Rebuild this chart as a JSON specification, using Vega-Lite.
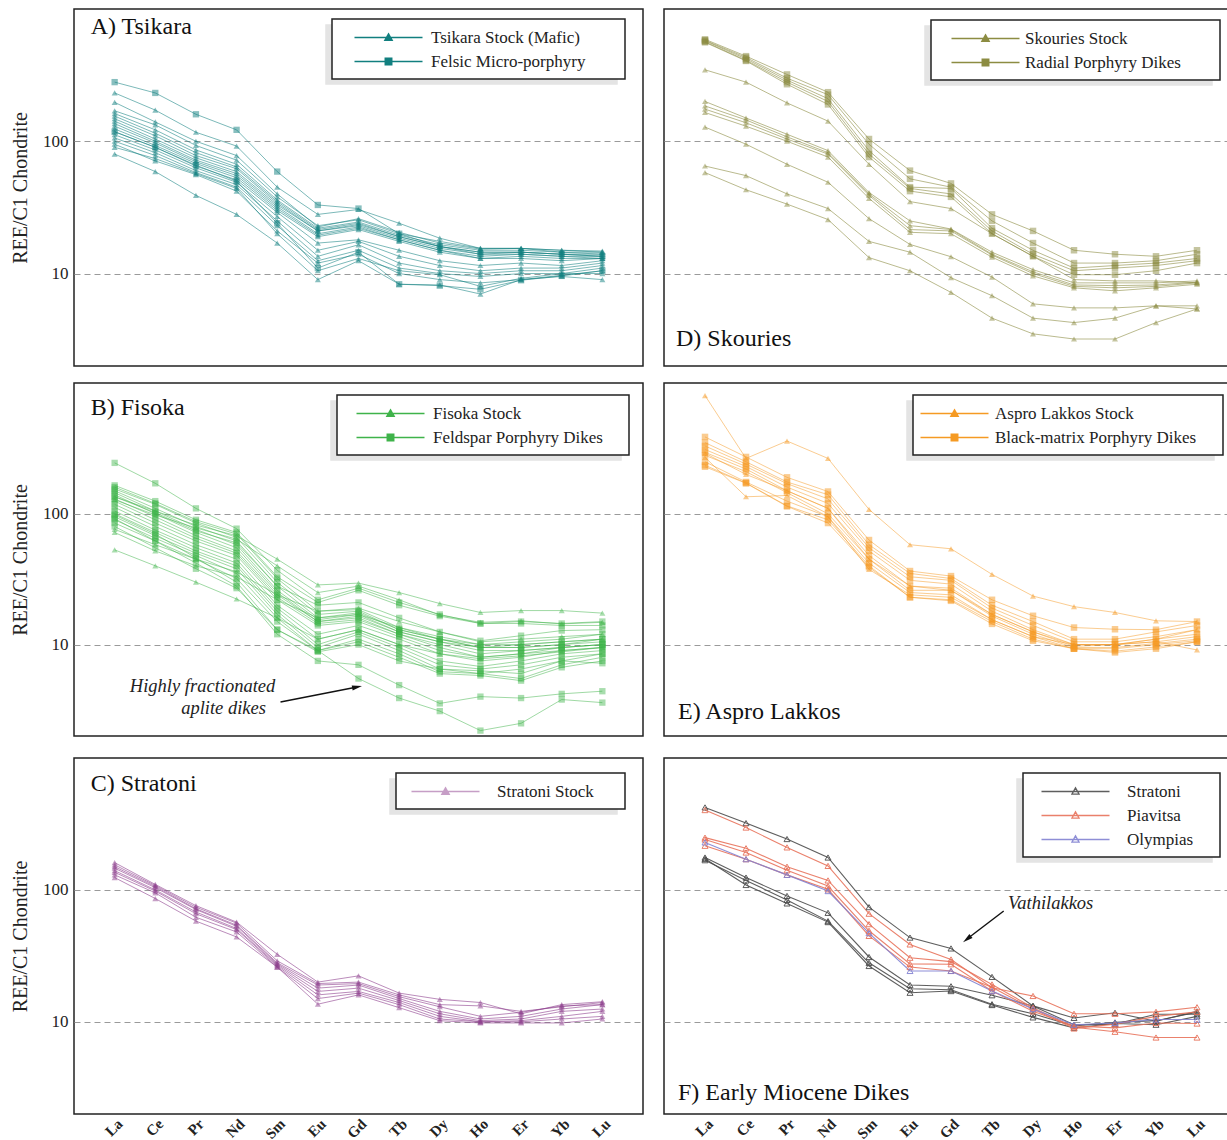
{
"$schema": "https://vega.github.io/schema/vega-lite/v6.json",
"padding": {"left": 9, "top": 8, "right": 0, "bottom": 0},
"background": "white",
"config": {"font": "Liberation Serif", "view": {"stroke": "#222", "strokeWidth": 1.5}, "legend": {"strokeWidth": 1.5}},
"datasets": {"ree": [
{"p":"A","g":"Tsikara Stock (Mafic)","s":"A1","La":232,"Ce":172,"Pr":117,"Nd":92,"Sm":45,"Eu":28,"Gd":30.5,"Tb":24,"Dy":18.5,"Ho":15.5,"Er":15.5,"Yb":15,"Lu":14.5},
{"p":"A","g":"Tsikara Stock (Mafic)","s":"A2","La":197,"Ce":140,"Pr":100,"Nd":78,"Sm":40,"Eu":22.5,"Gd":26,"Tb":20.5,"Dy":17,"Ho":15.3,"Er":15.5,"Yb":15,"Lu":14.8},
{"p":"A","g":"Tsikara Stock (Mafic)","s":"A3","La":170,"Ce":133,"Pr":93,"Nd":72,"Sm":38,"Eu":23,"Gd":25.5,"Tb":20,"Dy":17.5,"Ho":15.5,"Er":15.5,"Yb":14.5,"Lu":14},
{"p":"A","g":"Tsikara Stock (Mafic)","s":"A4","La":162,"Ce":122,"Pr":86,"Nd":67,"Sm":36,"Eu":22,"Gd":24.5,"Tb":19.5,"Dy":16.5,"Ho":15,"Er":15,"Yb":14.5,"Lu":14.5},
{"p":"A","g":"Tsikara Stock (Mafic)","s":"A5","La":155,"Ce":115,"Pr":82,"Nd":64,"Sm":35,"Eu":21.5,"Gd":24,"Tb":19,"Dy":16,"Ho":14.5,"Er":14.5,"Yb":14,"Lu":14},
{"p":"A","g":"Tsikara Stock (Mafic)","s":"A6","La":148,"Ce":110,"Pr":78,"Nd":62,"Sm":34,"Eu":21,"Gd":23.5,"Tb":19,"Dy":16,"Ho":14.5,"Er":14.5,"Yb":14,"Lu":13.5},
{"p":"A","g":"Tsikara Stock (Mafic)","s":"A7","La":142,"Ce":104,"Pr":75,"Nd":59,"Sm":33,"Eu":21,"Gd":23,"Tb":18.5,"Dy":15.5,"Ho":14,"Er":14,"Yb":13.5,"Lu":13.5},
{"p":"A","g":"Tsikara Stock (Mafic)","s":"A8","La":136,"Ce":100,"Pr":72,"Nd":57,"Sm":32,"Eu":20,"Gd":22.5,"Tb":18,"Dy":15,"Ho":13.5,"Er":14,"Yb":13.5,"Lu":13},
{"p":"A","g":"Tsikara Stock (Mafic)","s":"A9","La":130,"Ce":97,"Pr":70,"Nd":55,"Sm":31,"Eu":19.5,"Gd":22,"Tb":18,"Dy":15,"Ho":13,"Er":13.5,"Yb":13,"Lu":13},
{"p":"A","g":"Tsikara Stock (Mafic)","s":"A10","La":124,"Ce":93,"Pr":68,"Nd":53,"Sm":30,"Eu":19,"Gd":21.5,"Tb":17.5,"Dy":14.5,"Ho":13,"Er":13,"Yb":12.5,"Lu":13},
{"p":"A","g":"Tsikara Stock (Mafic)","s":"A11","La":118,"Ce":90,"Pr":65,"Nd":51,"Sm":29,"Eu":17,"Gd":18,"Tb":15,"Dy":12.5,"Ho":11.5,"Er":12,"Yb":11.5,"Lu":12.5},
{"p":"A","g":"Tsikara Stock (Mafic)","s":"A12","La":112,"Ce":86,"Pr":63,"Nd":49,"Sm":27,"Eu":15,"Gd":17.5,"Tb":13.5,"Dy":11.5,"Ho":10.5,"Er":11,"Yb":11,"Lu":12},
{"p":"A","g":"Tsikara Stock (Mafic)","s":"A13","La":106,"Ce":82,"Pr":60,"Nd":47,"Sm":25,"Eu":13.5,"Gd":16.5,"Tb":12,"Dy":10.5,"Ho":10,"Er":10.5,"Yb":10.5,"Lu":11.5},
{"p":"A","g":"Tsikara Stock (Mafic)","s":"A14","La":100,"Ce":78,"Pr":58,"Nd":45,"Sm":23,"Eu":12.5,"Gd":15,"Tb":11,"Dy":10,"Ho":9.5,"Er":10,"Yb":10,"Lu":11},
{"p":"A","g":"Tsikara Stock (Mafic)","s":"A15","La":95,"Ce":71,"Pr":56,"Nd":42,"Sm":21,"Eu":12,"Gd":14,"Tb":10,"Dy":9,"Ho":8.5,"Er":9,"Yb":9.7,"Lu":10.5},
{"p":"A","g":"Tsikara Stock (Mafic)","s":"A16","La":80,"Ce":59,"Pr":39,"Nd":28,"Sm":17,"Eu":9,"Gd":12.5,"Tb":8.3,"Dy":8.2,"Ho":7,"Er":9,"Yb":9.5,"Lu":9},
{"p":"A","g":"Tsikara Stock (Mafic)","s":"A17","La":90,"Ce":74,"Pr":57,"Nd":44,"Sm":20,"Eu":10.5,"Gd":13,"Tb":10.5,"Dy":9.8,"Ho":8,"Er":9.2,"Yb":10,"Lu":10},
{"p":"A","g":"Felsic Micro-porphyry","s":"A18","La":280,"Ce":232,"Pr":160,"Nd":122,"Sm":59,"Eu":33,"Gd":31,"Tb":20,"Dy":16,"Ho":14,"Er":14.5,"Yb":14,"Lu":13.5},
{"p":"A","g":"Felsic Micro-porphyry","s":"A19","La":118,"Ce":90,"Pr":66,"Nd":50,"Sm":24,"Eu":11,"Gd":14.5,"Tb":8.3,"Dy":8.1,"Ho":7.6,"Er":8.9,"Yb":9.6,"Lu":10.5},
{"p":"B","g":"Fisoka Stock","s":"B1","La":135,"Ce":105,"Pr":82,"Nd":68,"Sm":45,"Eu":28.6,"Gd":29.5,"Tb":25,"Dy":20.6,"Ho":17.6,"Er":18.2,"Yb":18.2,"Lu":17.4},
{"p":"B","g":"Fisoka Stock","s":"B2","La":128,"Ce":98,"Pr":78,"Nd":64,"Sm":40,"Eu":25,"Gd":28,"Tb":22,"Dy":16.8,"Ho":14.8,"Er":15.2,"Yb":14.4,"Lu":14.8},
{"p":"B","g":"Fisoka Stock","s":"B3","La":76,"Ce":58,"Pr":45,"Nd":36,"Sm":24,"Eu":18,"Gd":19,"Tb":15,"Dy":12.5,"Ho":10.5,"Er":11,"Yb":11.5,"Lu":12},
{"p":"B","g":"Fisoka Stock","s":"B4","La":72,"Ce":52,"Pr":40,"Nd":33,"Sm":22,"Eu":16,"Gd":17,"Tb":13.5,"Dy":11,"Ho":9.5,"Er":10,"Yb":10.5,"Lu":11},
{"p":"B","g":"Fisoka Stock","s":"B5","La":53,"Ce":40,"Pr":30,"Nd":22.3,"Sm":16,"Eu":11,"Gd":13,"Tb":10,"Dy":8.5,"Ho":7.8,"Er":8.2,"Yb":8.8,"Lu":9.5},
{"p":"B","g":"Feldspar Porphyry Dikes","s":"B6","La":245,"Ce":171,"Pr":110,"Nd":77,"Sm":37,"Eu":22,"Gd":27,"Tb":21,"Dy":17,"Ho":14.5,"Er":15,"Yb":14.5,"Lu":15},
{"p":"B","g":"Feldspar Porphyry Dikes","s":"B7","La":165,"Ce":125,"Pr":90,"Nd":72,"Sm":33,"Eu":21,"Gd":26,"Tb":20,"Dy":16.5,"Ho":14.5,"Er":14.5,"Yb":14,"Lu":14},
{"p":"B","g":"Feldspar Porphyry Dikes","s":"B8","La":160,"Ce":120,"Pr":87,"Nd":70,"Sm":32,"Eu":18,"Gd":18.5,"Tb":13.5,"Dy":11.5,"Ho":10,"Er":10.5,"Yb":11,"Lu":12},
{"p":"B","g":"Feldspar Porphyry Dikes","s":"B9","La":155,"Ce":118,"Pr":85,"Nd":66,"Sm":30,"Eu":17,"Gd":18,"Tb":13,"Dy":11,"Ho":10,"Er":10,"Yb":10.5,"Lu":11},
{"p":"B","g":"Feldspar Porphyry Dikes","s":"B10","La":150,"Ce":110,"Pr":80,"Nd":62,"Sm":28,"Eu":16,"Gd":17.5,"Tb":13,"Dy":11,"Ho":9.5,"Er":9.5,"Yb":10,"Lu":10.5},
{"p":"B","g":"Feldspar Porphyry Dikes","s":"B11","La":145,"Ce":105,"Pr":76,"Nd":58,"Sm":26,"Eu":15.5,"Gd":17,"Tb":12.5,"Dy":10.5,"Ho":9.5,"Er":9.5,"Yb":10,"Lu":11},
{"p":"B","g":"Feldspar Porphyry Dikes","s":"B12","La":140,"Ce":100,"Pr":72,"Nd":55,"Sm":25,"Eu":15,"Gd":16.5,"Tb":12.5,"Dy":10.5,"Ho":9,"Er":9,"Yb":9.5,"Lu":10},
{"p":"B","g":"Feldspar Porphyry Dikes","s":"B13","La":130,"Ce":95,"Pr":68,"Nd":52,"Sm":24,"Eu":15,"Gd":16,"Tb":12,"Dy":10,"Ho":8.5,"Er":9,"Yb":9.5,"Lu":10},
{"p":"B","g":"Feldspar Porphyry Dikes","s":"B14","La":125,"Ce":90,"Pr":65,"Nd":50,"Sm":23,"Eu":14.5,"Gd":15.5,"Tb":12,"Dy":9.5,"Ho":8,"Er":8.5,"Yb":9.5,"Lu":10},
{"p":"B","g":"Feldspar Porphyry Dikes","s":"B15","La":118,"Ce":85,"Pr":62,"Nd":48,"Sm":22,"Eu":14,"Gd":15,"Tb":11.5,"Dy":9,"Ho":8,"Er":8.5,"Yb":9,"Lu":9.5},
{"p":"B","g":"Feldspar Porphyry Dikes","s":"B16","La":112,"Ce":80,"Pr":58,"Nd":45,"Sm":20,"Eu":12,"Gd":14,"Tb":11,"Dy":8.5,"Ho":7.5,"Er":8,"Yb":9,"Lu":9.5},
{"p":"B","g":"Feldspar Porphyry Dikes","s":"B17","La":105,"Ce":75,"Pr":55,"Nd":42,"Sm":19,"Eu":11,"Gd":13,"Tb":10,"Dy":7.5,"Ho":6.8,"Er":7.5,"Yb":8.5,"Lu":9},
{"p":"B","g":"Feldspar Porphyry Dikes","s":"B18","La":100,"Ce":72,"Pr":52,"Nd":40,"Sm":18,"Eu":10,"Gd":12.5,"Tb":9.5,"Dy":7,"Ho":6.5,"Er":7,"Yb":8,"Lu":8.5},
{"p":"B","g":"Feldspar Porphyry Dikes","s":"B19","La":95,"Ce":68,"Pr":50,"Nd":38,"Sm":17,"Eu":9.5,"Gd":12,"Tb":9,"Dy":6.5,"Ho":6,"Er":6.5,"Yb":7.5,"Lu":8.5},
{"p":"B","g":"Feldspar Porphyry Dikes","s":"B20","La":90,"Ce":65,"Pr":48,"Nd":35,"Sm":16,"Eu":9,"Gd":11,"Tb":8.5,"Dy":6.2,"Ho":6,"Er":5.5,"Yb":7,"Lu":8},
{"p":"B","g":"Feldspar Porphyry Dikes","s":"B21","La":85,"Ce":62,"Pr":45,"Nd":32,"Sm":15,"Eu":9,"Gd":10.5,"Tb":8,"Dy":6,"Ho":5.8,"Er":5.3,"Yb":6.7,"Lu":7.5},
{"p":"B","g":"Feldspar Porphyry Dikes","s":"B22","La":98,"Ce":70,"Pr":46,"Nd":30,"Sm":13,"Eu":8.8,"Gd":10,"Tb":7.5,"Dy":6.5,"Ho":6.3,"Er":6,"Yb":7.5,"Lu":7.2},
{"p":"B","g":"Feldspar Porphyry Dikes","s":"B23","La":92,"Ce":62,"Pr":42,"Nd":28,"Sm":12,"Eu":7.5,"Gd":7,"Tb":4.9,"Dy":3.55,"Ho":4,"Er":3.9,"Yb":4.2,"Lu":4.4},
{"p":"B","g":"Feldspar Porphyry Dikes","s":"B24","La":80,"Ce":55,"Pr":38,"Nd":27,"Sm":13,"Eu":9,"Gd":5.5,"Tb":3.9,"Dy":3.1,"Ho":2.2,"Er":2.5,"Yb":3.8,"Lu":3.6},
{"p":"B","g":"Feldspar Porphyry Dikes","s":"B25","La":135,"Ce":102,"Pr":74,"Nd":60,"Sm":28,"Eu":20,"Gd":21,"Tb":16,"Dy":12.5,"Ho":10.7,"Er":11.7,"Yb":12.8,"Lu":13},
{"p":"C","g":"Stratoni Stock","s":"C1","La":161,"Ce":110,"Pr":76,"Nd":57,"Sm":32.5,"Eu":20,"Gd":22.3,"Tb":16.5,"Dy":14.8,"Ho":14,"Er":11.5,"Yb":13.5,"Lu":14.2},
{"p":"C","g":"Stratoni Stock","s":"C2","La":155,"Ce":108,"Pr":74,"Nd":56,"Sm":29,"Eu":19.5,"Gd":20,"Tb":16,"Dy":13.5,"Ho":13.2,"Er":12,"Yb":13,"Lu":14},
{"p":"C","g":"Stratoni Stock","s":"C3","La":150,"Ce":106,"Pr":72,"Nd":54,"Sm":28,"Eu":19,"Gd":19.5,"Tb":15.5,"Dy":13,"Ho":11,"Er":11.8,"Yb":13.2,"Lu":13.5},
{"p":"C","g":"Stratoni Stock","s":"C4","La":146,"Ce":104,"Pr":71,"Nd":53,"Sm":27.5,"Eu":18,"Gd":19,"Tb":15,"Dy":12,"Ho":10.5,"Er":11,"Yb":12.5,"Lu":13.5},
{"p":"C","g":"Stratoni Stock","s":"C5","La":140,"Ce":100,"Pr":68,"Nd":51,"Sm":27,"Eu":17,"Gd":18,"Tb":14.5,"Dy":11.5,"Ho":10.2,"Er":10.5,"Yb":12,"Lu":12.5},
{"p":"C","g":"Stratoni Stock","s":"C6","La":136,"Ce":98,"Pr":66,"Nd":50,"Sm":26.5,"Eu":16,"Gd":17,"Tb":14,"Dy":11,"Ho":10,"Er":10.2,"Yb":11,"Lu":12},
{"p":"C","g":"Stratoni Stock","s":"C7","La":130,"Ce":95,"Pr":62,"Nd":48,"Sm":26,"Eu":15,"Gd":16.5,"Tb":13.5,"Dy":10.5,"Ho":10,"Er":10,"Yb":10.5,"Lu":11},
{"p":"C","g":"Stratoni Stock","s":"C8","La":124,"Ce":86,"Pr":58,"Nd":44,"Sm":26,"Eu":13.6,"Gd":16,"Tb":12.8,"Dy":10.2,"Ho":9.8,"Er":9.8,"Yb":9.8,"Lu":10.5},
{"p":"D","g":"Radial Porphyry Dikes","s":"D1","La":590,"Ce":440,"Pr":320,"Nd":235,"Sm":104,"Eu":60,"Gd":48,"Tb":28,"Dy":21,"Ho":15,"Er":14,"Yb":13.5,"Lu":15},
{"p":"D","g":"Radial Porphyry Dikes","s":"D2","La":580,"Ce":430,"Pr":300,"Nd":225,"Sm":95,"Eu":52,"Gd":45,"Tb":25,"Dy":17,"Ho":12,"Er":12,"Yb":12.5,"Lu":14},
{"p":"D","g":"Radial Porphyry Dikes","s":"D3","La":575,"Ce":420,"Pr":290,"Nd":210,"Sm":85,"Eu":45,"Gd":44,"Tb":22,"Dy":15,"Ho":11,"Er":11.5,"Yb":12,"Lu":13},
{"p":"D","g":"Radial Porphyry Dikes","s":"D4","La":565,"Ce":410,"Pr":280,"Nd":200,"Sm":80,"Eu":44,"Gd":40,"Tb":21,"Dy":14,"Ho":10.5,"Er":11,"Yb":11.5,"Lu":12.5},
{"p":"D","g":"Radial Porphyry Dikes","s":"D5","La":560,"Ce":405,"Pr":270,"Nd":190,"Sm":76,"Eu":42,"Gd":38,"Tb":20,"Dy":13.5,"Ho":9.8,"Er":9.8,"Yb":10.5,"Lu":12},
{"p":"D","g":"Skouries Stock","s":"D6","La":347,"Ce":280,"Pr":195,"Nd":142,"Sm":67,"Eu":35,"Gd":31,"Tb":20,"Dy":13.5,"Ho":9,"Er":8.8,"Yb":8.8,"Lu":8.5},
{"p":"D","g":"Skouries Stock","s":"D7","La":200,"Ce":150,"Pr":113,"Nd":85,"Sm":41,"Eu":25,"Gd":21.7,"Tb":14.5,"Dy":10.7,"Ho":8.5,"Er":8.5,"Yb":8.5,"Lu":8.8},
{"p":"D","g":"Skouries Stock","s":"D8","La":185,"Ce":145,"Pr":108,"Nd":82,"Sm":40,"Eu":23,"Gd":21.5,"Tb":14,"Dy":10.3,"Ho":8.2,"Er":8.1,"Yb":8.2,"Lu":8.6},
{"p":"D","g":"Skouries Stock","s":"D9","La":175,"Ce":138,"Pr":104,"Nd":80,"Sm":39,"Eu":21.5,"Gd":21,"Tb":13.8,"Dy":10,"Ho":8,"Er":7.8,"Yb":8,"Lu":8.5},
{"p":"D","g":"Skouries Stock","s":"D10","La":165,"Ce":130,"Pr":100,"Nd":76,"Sm":37,"Eu":20.5,"Gd":20,"Tb":13.3,"Dy":9.6,"Ho":7.8,"Er":7.4,"Yb":7.8,"Lu":8.3},
{"p":"D","g":"Skouries Stock","s":"D11","La":128,"Ce":95,"Pr":67,"Nd":49,"Sm":26,"Eu":16.6,"Gd":13.4,"Tb":9.4,"Dy":5.9,"Ho":5.5,"Er":5.5,"Yb":5.7,"Lu":5.4},
{"p":"D","g":"Skouries Stock","s":"D12","La":65,"Ce":55,"Pr":40,"Nd":31,"Sm":17.5,"Eu":14.5,"Gd":9.3,"Tb":6.8,"Dy":4.6,"Ho":4.26,"Er":4.6,"Yb":5.7,"Lu":5.7},
{"p":"D","g":"Skouries Stock","s":"D13","La":58,"Ce":43,"Pr":33.5,"Nd":25.6,"Sm":13.2,"Eu":10.5,"Gd":7.2,"Tb":4.6,"Dy":3.5,"Ho":3.2,"Er":3.2,"Yb":4.26,"Lu":5.4},
{"p":"E","g":"Aspro Lakkos Stock","s":"E1","La":802,"Ce":265,"Pr":360,"Nd":265,"Sm":108,"Eu":58,"Gd":54,"Tb":34.4,"Dy":23.5,"Ho":19.5,"Er":17.6,"Yb":15.2,"Lu":15},
{"p":"E","g":"Aspro Lakkos Stock","s":"E2","La":290,"Ce":200,"Pr":150,"Nd":110,"Sm":45,"Eu":28,"Gd":26,"Tb":17,"Dy":12.5,"Ho":10,"Er":10,"Yb":10.5,"Lu":9.1},
{"p":"E","g":"Aspro Lakkos Stock","s":"E3","La":270,"Ce":135,"Pr":138,"Nd":95,"Sm":37.6,"Eu":24,"Gd":23,"Tb":15.5,"Dy":11.5,"Ho":10,"Er":10,"Yb":11,"Lu":13},
{"p":"E","g":"Black-matrix Porphyry Dikes","s":"E4","La":387,"Ce":272,"Pr":190,"Nd":148,"Sm":63,"Eu":36.5,"Gd":33.4,"Tb":22,"Dy":16.6,"Ho":13.5,"Er":13.1,"Yb":13,"Lu":15},
{"p":"E","g":"Black-matrix Porphyry Dikes","s":"E5","La":350,"Ce":250,"Pr":175,"Nd":140,"Sm":58,"Eu":35,"Gd":32,"Tb":20,"Dy":15,"Ho":11,"Er":11,"Yb":12.5,"Lu":14},
{"p":"E","g":"Black-matrix Porphyry Dikes","s":"E6","La":330,"Ce":240,"Pr":170,"Nd":130,"Sm":55,"Eu":33,"Gd":31,"Tb":19,"Dy":14,"Ho":10.5,"Er":10.5,"Yb":11.5,"Lu":13},
{"p":"E","g":"Black-matrix Porphyry Dikes","s":"E7","La":310,"Ce":230,"Pr":160,"Nd":120,"Sm":52,"Eu":31,"Gd":29,"Tb":18,"Dy":13,"Ho":10,"Er":10,"Yb":11,"Lu":12},
{"p":"E","g":"Black-matrix Porphyry Dikes","s":"E8","La":295,"Ce":220,"Pr":150,"Nd":110,"Sm":48,"Eu":28,"Gd":27,"Tb":17,"Dy":12.5,"Ho":9.7,"Er":10,"Yb":10.5,"Lu":11.5},
{"p":"E","g":"Black-matrix Porphyry Dikes","s":"E9","La":280,"Ce":210,"Pr":145,"Nd":100,"Sm":45,"Eu":26,"Gd":26,"Tb":16.5,"Dy":12,"Ho":9.5,"Er":9.5,"Yb":10.2,"Lu":11},
{"p":"E","g":"Black-matrix Porphyry Dikes","s":"E10","La":250,"Ce":175,"Pr":125,"Nd":95,"Sm":42,"Eu":25,"Gd":24,"Tb":15.5,"Dy":11.5,"Ho":9.3,"Er":9.3,"Yb":10,"Lu":10.7},
{"p":"E","g":"Black-matrix Porphyry Dikes","s":"E11","La":235,"Ce":172,"Pr":115,"Nd":90,"Sm":40,"Eu":23,"Gd":22,"Tb":15,"Dy":11,"Ho":9.3,"Er":8.9,"Yb":9.6,"Lu":10.5},
{"p":"E","g":"Black-matrix Porphyry Dikes","s":"E12","La":229,"Ce":171,"Pr":114,"Nd":85,"Sm":39,"Eu":23,"Gd":21.6,"Tb":14.4,"Dy":10.7,"Ho":9.3,"Er":8.7,"Yb":9.3,"Lu":10.5},
{"p":"F","g":"Stratoni","s":"F1","La":422,"Ce":321,"Pr":243,"Nd":176,"Sm":74,"Eu":43.5,"Gd":36,"Tb":21.9,"Dy":13.2,"Ho":10.7,"Er":11.7,"Yb":10.1,"Lu":12},
{"p":"F","g":"Stratoni","s":"F2","La":176,"Ce":124,"Pr":90,"Nd":67,"Sm":31,"Eu":19,"Gd":18.6,"Tb":15.9,"Dy":13.2,"Ho":9.5,"Er":9.6,"Yb":11.4,"Lu":11.4},
{"p":"F","g":"Stratoni","s":"F3","La":172,"Ce":109,"Pr":79,"Nd":57,"Sm":26.5,"Eu":16.6,"Gd":17.1,"Tb":13.4,"Dy":10.8,"Ho":9,"Er":9.7,"Yb":9.5,"Lu":11},
{"p":"F","g":"Stratoni","s":"F4","La":168,"Ce":118,"Pr":84,"Nd":58,"Sm":28,"Eu":17.8,"Gd":17.5,"Tb":13.6,"Dy":11.5,"Ho":9.3,"Er":9.9,"Yb":10.2,"Lu":11.8},
{"p":"F","g":"Piavitsa","s":"F5","La":403,"Ce":297,"Pr":210,"Nd":152,"Sm":66,"Eu":38.6,"Gd":29.7,"Tb":18.1,"Dy":15.7,"Ho":11.5,"Er":11.5,"Yb":11.9,"Lu":12.9},
{"p":"F","g":"Piavitsa","s":"F6","La":249,"Ce":207,"Pr":150,"Nd":118,"Sm":55,"Eu":30.6,"Gd":28.6,"Tb":19.2,"Dy":12.8,"Ho":9.1,"Er":8.4,"Yb":7.6,"Lu":7.6},
{"p":"F","g":"Piavitsa","s":"F7","La":241,"Ce":192,"Pr":141,"Nd":107,"Sm":49,"Eu":27.5,"Gd":27.3,"Tb":17.1,"Dy":12,"Ho":9.3,"Er":9,"Yb":9.8,"Lu":9.7},
{"p":"F","g":"Piavitsa","s":"F8","La":216,"Ce":171,"Pr":130,"Nd":101,"Sm":44.8,"Eu":26,"Gd":24.3,"Tb":18.3,"Dy":12.5,"Ho":8.9,"Er":9.6,"Yb":11,"Lu":11.9},
{"p":"F","g":"Olympias","s":"F9","La":229,"Ce":171,"Pr":130,"Nd":98,"Sm":47,"Eu":24.3,"Gd":24.3,"Tb":17.1,"Dy":12.5,"Ho":9.5,"Er":9.8,"Yb":10.4,"Lu":10.4}
]},
"spacing": 20,
"resolve": {"scale": {"color": "independent", "shape": "independent", "opacity": "independent", "x": "independent", "y": "independent"}, "legend": {"color": "independent", "shape": "independent", "opacity": "independent"}},
"vconcat": [
{"spacing": 15, "resolve": {"scale": {"color": "independent", "shape": "independent", "opacity": "independent", "x": "independent", "y": "independent"}, "legend": {"color": "independent", "shape": "independent", "opacity": "independent"}}, "vconcat": [
{"spacing": 19, "resolve": {"scale": {"color": "independent", "shape": "independent", "opacity": "independent", "x": "independent", "y": "independent"}, "legend": {"color": "independent", "shape": "independent", "opacity": "independent"}}, "hconcat": [
{"width": 569, "height": 357,
 "data": {"name": "ree"},
 "transform": [{"filter": "datum.p == 'A'"}, {"fold": ["La","Ce","Pr","Nd","Sm","Eu","Gd","Tb","Dy","Ho","Er","Yb","Lu"], "as": ["el", "v"]}],
 "encoding": {
  "x": {"field": "el", "type": "nominal", "sort": ["La","Ce","Pr","Nd","Sm","Eu","Gd","Tb","Dy","Ho","Er","Yb","Lu"], "scale": {"type": "point", "domain": ["La","Ce","Pr","Nd","Sm","Eu","Gd","Tb","Dy","Ho","Er","Yb","Lu"], "padding": 1.13}, "axis": null},
  "y": {"field": "v", "type": "quantitative", "scale": {"type": "log", "domain": [2, 1000], "nice": false}, "axis": {"values": [10, 100], "format": "d", "grid": true, "gridDash": [6, 4], "gridColor": "#9a9a9a", "gridWidth": 1, "ticks": false, "domain": false, "labelFontSize": 17, "labelPadding": 6, "labelColor": "#222", "title": "REE/C1 Chondrite", "titleFontSize": 20, "titleFontWeight": "normal", "titleColor": "#222", "titlePadding": 12}}
 },
 "layer": [
  {"transform": [{"filter": "false"}], "mark": {"type": "point", "filled": false, "opacity": 1, "strokeWidth": 1.5},
   "encoding": {
    "color": {"field": "g", "type": "nominal", "scale": {"domain": ["Tsikara Stock (Mafic)", "Felsic Micro-porphyry"], "range": ["#117f7f", "#117f7f"]},
     "legend": {"orient": "none", "legendX": 258, "legendY": 10, "zindex": 2, "title": null, "padding": 9, "strokeColor": "#222", "fillColor": "#fff", "labelFont": "Liberation Serif", "labelFontSize": 17, "labelColor": "#222", "labelLimit": 400, "labelExpr": "datum.label + '\u00a0\u00a0\u00a0\u00a0\u00a0\u00a0\u00a0\u200b'", "symbolSize": 289, "symbolOffset": 38, "labelOffset": 33, "rowPadding": 6, "symbolFillColor": "#8cc3c3", "symbolStrokeWidth": 1.5, "symbolOpacity": 1}},
    "shape": {"field": "g", "type": "nominal", "scale": {"domain": ["Tsikara Stock (Mafic)", "Felsic Micro-porphyry"], "range": ["M-4,0H4M0,-0.42L0.42,0.32L-0.42,0.32Z", "M-4,0H4M-0.38,-0.38H0.38V0.38H-0.38Z"]},
     "legend": {"orient": "none", "legendX": 258, "legendY": 10, "zindex": 2, "title": null, "padding": 9, "strokeColor": "#222", "fillColor": "#fff", "labelFont": "Liberation Serif", "labelFontSize": 17, "labelColor": "#222", "labelLimit": 400, "labelExpr": "datum.label + '\u00a0\u00a0\u00a0\u00a0\u00a0\u00a0\u00a0\u200b'", "symbolSize": 289, "symbolOffset": 38, "labelOffset": 33, "rowPadding": 6, "symbolFillColor": "#8cc3c3", "symbolStrokeWidth": 1.5, "symbolOpacity": 1}},
    "opacity": {"field": "g", "type": "nominal", "scale": {"domain": ["Felsic Micro-porphyry", "Tsikara Stock (Mafic)"], "range": [1, 1]},
     "legend": {"orient": "none", "legendX": 252, "legendY": 16, "zindex": 0, "title": null, "padding": 9, "strokeColor": "#e4e4e4", "fillColor": "#e4e4e4", "labelFont": "Liberation Serif", "labelFontSize": 17, "labelColor": "transparent", "labelLimit": 400, "labelExpr": "''", "symbolSize": 289, "symbolOffset": 38, "labelOffset": 218, "rowPadding": 6, "symbolType": "M-4,-1H4V1", "symbolFillColor": "transparent", "symbolStrokeColor": "transparent", "symbolStrokeWidth": 0, "symbolOpacity": 0}}}},
  {"mark": {"type": "line", "strokeWidth": 1, "opacity": 0.55},
   "encoding": {"detail": {"field": "s"}, "color": {"field": "g", "type": "nominal"}}},
  {"transform": [{"filter": "datum.g == 'Tsikara Stock (Mafic)'"}], "mark": {"type": "point", "filled": true, "opacity": 0.5, "size": 36, "shape": "triangle-up"},
   "encoding": {"color": {"field": "g", "type": "nominal"}}},
  {"transform": [{"filter": "datum.g == 'Felsic Micro-porphyry'"}], "mark": {"type": "point", "filled": true, "opacity": 0.5, "size": 40, "shape": "square"},
   "encoding": {"color": {"field": "g", "type": "nominal"}}},
  {"transform": [{"filter": "datum.s == 'A1' && datum.el == 'La'"}], "mark": {"type": "text", "align": "left", "baseline": "alphabetic", "fontSize": 24, "dx": -24, "color": "#111", "font": "Liberation Serif"},
   "encoding": {"x": {"datum": "La"}, "y": {"datum": 647}, "text": {"value": "A) Tsikara"}}}
 ]},
{"width": 574, "height": 357,
 "data": {"name": "ree"},
 "transform": [{"filter": "datum.p == 'D'"}, {"fold": ["La","Ce","Pr","Nd","Sm","Eu","Gd","Tb","Dy","Ho","Er","Yb","Lu"], "as": ["el", "v"]}],
 "encoding": {
  "x": {"field": "el", "type": "nominal", "sort": ["La","Ce","Pr","Nd","Sm","Eu","Gd","Tb","Dy","Ho","Er","Yb","Lu"], "scale": {"type": "point", "domain": ["La","Ce","Pr","Nd","Sm","Eu","Gd","Tb","Dy","Ho","Er","Yb","Lu"], "padding": 1.13}, "axis": null},
  "y": {"field": "v", "type": "quantitative", "scale": {"type": "log", "domain": [2, 1000], "nice": false}, "axis": {"values": [10, 100], "grid": true, "gridDash": [6, 4], "gridColor": "#9a9a9a", "gridWidth": 1, "ticks": false, "domain": false, "labels": false, "title": null}}
 },
 "layer": [
  {"transform": [{"filter": "false"}], "mark": {"type": "point", "filled": false, "opacity": 1, "strokeWidth": 1.5},
   "encoding": {
    "color": {"field": "g", "type": "nominal", "scale": {"domain": ["Skouries Stock", "Radial Porphyry Dikes"], "range": ["#8c8c42", "#8c8c42"]},
     "legend": {"orient": "none", "legendX": 267, "legendY": 11, "zindex": 2, "title": null, "padding": 9, "strokeColor": "#222", "fillColor": "#fff", "labelFont": "Liberation Serif", "labelFontSize": 17, "labelColor": "#222", "labelLimit": 400, "labelExpr": "datum.label + '\u00a0\u00a0\u00a0\u00a0\u00a0\u00a0\u00a0\u200b'", "symbolSize": 289, "symbolOffset": 36, "labelOffset": 30, "rowPadding": 6, "symbolFillColor": "#b4b482", "symbolStrokeWidth": 1.5, "symbolOpacity": 1}},
    "shape": {"field": "g", "type": "nominal", "scale": {"domain": ["Skouries Stock", "Radial Porphyry Dikes"], "range": ["M-4,0H4M0,-0.42L0.42,0.32L-0.42,0.32Z", "M-4,0H4M-0.38,-0.38H0.38V0.38H-0.38Z"]},
     "legend": {"orient": "none", "legendX": 267, "legendY": 11, "zindex": 2, "title": null, "padding": 9, "strokeColor": "#222", "fillColor": "#fff", "labelFont": "Liberation Serif", "labelFontSize": 17, "labelColor": "#222", "labelLimit": 400, "labelExpr": "datum.label + '\u00a0\u00a0\u00a0\u00a0\u00a0\u00a0\u00a0\u200b'", "symbolSize": 289, "symbolOffset": 36, "labelOffset": 30, "rowPadding": 6, "symbolFillColor": "#b4b482", "symbolStrokeWidth": 1.5, "symbolOpacity": 1}},
    "opacity": {"field": "g", "type": "nominal", "scale": {"domain": ["Radial Porphyry Dikes", "Skouries Stock"], "range": [1, 1]},
     "legend": {"orient": "none", "legendX": 261, "legendY": 17, "zindex": 0, "title": null, "padding": 9, "strokeColor": "#e4e4e4", "fillColor": "#e4e4e4", "labelFont": "Liberation Serif", "labelFontSize": 17, "labelColor": "transparent", "labelLimit": 400, "labelExpr": "''", "symbolSize": 289, "symbolOffset": 36, "labelOffset": 216, "rowPadding": 6, "symbolType": "M-4,-1H4V1", "symbolFillColor": "transparent", "symbolStrokeColor": "transparent", "symbolStrokeWidth": 0, "symbolOpacity": 0}}}},
  {"mark": {"type": "line", "strokeWidth": 1, "opacity": 0.6},
   "encoding": {"detail": {"field": "s"}, "color": {"field": "g", "type": "nominal"}}},
  {"transform": [{"filter": "datum.g == 'Skouries Stock'"}], "mark": {"type": "point", "filled": true, "opacity": 0.5, "size": 36, "shape": "triangle-up"},
   "encoding": {"color": {"field": "g", "type": "nominal"}}},
  {"transform": [{"filter": "datum.g == 'Radial Porphyry Dikes'"}], "mark": {"type": "point", "filled": true, "opacity": 0.5, "size": 42, "shape": "square"},
   "encoding": {"color": {"field": "g", "type": "nominal"}}},
  {"transform": [{"filter": "datum.s == 'D1' && datum.el == 'La'"}], "mark": {"type": "text", "align": "left", "baseline": "alphabetic", "fontSize": 24, "dx": -29, "color": "#111", "font": "Liberation Serif"},
   "encoding": {"x": {"datum": "La"}, "y": {"datum": 2.85}, "text": {"value": "D) Skouries"}}}
 ]}
]},
{"spacing": 19, "resolve": {"scale": {"color": "independent", "shape": "independent", "opacity": "independent", "x": "independent", "y": "independent"}, "legend": {"color": "independent", "shape": "independent", "opacity": "independent"}}, "hconcat": [
{"width": 569, "height": 353,
 "data": {"name": "ree"},
 "transform": [{"filter": "datum.p == 'B'"}, {"fold": ["La","Ce","Pr","Nd","Sm","Eu","Gd","Tb","Dy","Ho","Er","Yb","Lu"], "as": ["el", "v"]}],
 "encoding": {
  "x": {"field": "el", "type": "nominal", "sort": ["La","Ce","Pr","Nd","Sm","Eu","Gd","Tb","Dy","Ho","Er","Yb","Lu"], "scale": {"type": "point", "domain": ["La","Ce","Pr","Nd","Sm","Eu","Gd","Tb","Dy","Ho","Er","Yb","Lu"], "padding": 1.13}, "axis": null},
  "y": {"field": "v", "type": "quantitative", "scale": {"type": "log", "domain": [2, 1000], "nice": false}, "axis": {"values": [10, 100], "format": "d", "grid": true, "gridDash": [6, 4], "gridColor": "#9a9a9a", "gridWidth": 1, "ticks": false, "domain": false, "labelFontSize": 17, "labelPadding": 6, "labelColor": "#222", "title": "REE/C1 Chondrite", "titleFontSize": 20, "titleFontWeight": "normal", "titleColor": "#222", "titlePadding": 12}}
 },
 "layer": [
  {"transform": [{"filter": "false"}], "mark": {"type": "point", "filled": false, "opacity": 1, "strokeWidth": 1.5},
   "encoding": {
    "color": {"field": "g", "type": "nominal", "scale": {"domain": ["Fisoka Stock", "Feldspar Porphyry Dikes"], "range": ["#3fb34a", "#3fb34a"]},
     "legend": {"orient": "none", "legendX": 263, "legendY": 12, "zindex": 2, "title": null, "padding": 9, "strokeColor": "#222", "fillColor": "#fff", "labelFont": "Liberation Serif", "labelFontSize": 17, "labelColor": "#222", "labelLimit": 400, "labelExpr": "datum.label + '\u00a0\u00a0\u00a0\u00a0\u200b'", "symbolSize": 289, "symbolOffset": 35, "labelOffset": 33, "rowPadding": 6, "symbolFillColor": "#5cc25c", "symbolStrokeWidth": 1.5, "symbolOpacity": 1}},
    "shape": {"field": "g", "type": "nominal", "scale": {"domain": ["Fisoka Stock", "Feldspar Porphyry Dikes"], "range": ["M-4,0H4M0,-0.42L0.42,0.32L-0.42,0.32Z", "M-4,0H4M-0.38,-0.38H0.38V0.38H-0.38Z"]},
     "legend": {"orient": "none", "legendX": 263, "legendY": 12, "zindex": 2, "title": null, "padding": 9, "strokeColor": "#222", "fillColor": "#fff", "labelFont": "Liberation Serif", "labelFontSize": 17, "labelColor": "#222", "labelLimit": 400, "labelExpr": "datum.label + '\u00a0\u00a0\u00a0\u00a0\u200b'", "symbolSize": 289, "symbolOffset": 35, "labelOffset": 33, "rowPadding": 6, "symbolFillColor": "#5cc25c", "symbolStrokeWidth": 1.5, "symbolOpacity": 1}},
    "opacity": {"field": "g", "type": "nominal", "scale": {"domain": ["Feldspar Porphyry Dikes", "Fisoka Stock"], "range": [1, 1]},
     "legend": {"orient": "none", "legendX": 257, "legendY": 18, "zindex": 0, "title": null, "padding": 9, "strokeColor": "#e4e4e4", "fillColor": "#e4e4e4", "labelFont": "Liberation Serif", "labelFontSize": 17, "labelColor": "transparent", "labelLimit": 400, "labelExpr": "''", "symbolSize": 289, "symbolOffset": 35, "labelOffset": 220, "rowPadding": 6, "symbolType": "M-4,-1H4V1", "symbolFillColor": "transparent", "symbolStrokeColor": "transparent", "symbolStrokeWidth": 0, "symbolOpacity": 0}}}},
  {"mark": {"type": "line", "strokeWidth": 1, "opacity": 0.5},
   "encoding": {"detail": {"field": "s"}, "color": {"field": "g", "type": "nominal"}}},
  {"transform": [{"filter": "datum.g == 'Fisoka Stock'"}], "mark": {"type": "point", "filled": true, "opacity": 0.45, "size": 36, "shape": "triangle-up"},
   "encoding": {"color": {"field": "g", "type": "nominal"}}},
  {"transform": [{"filter": "datum.g == 'Feldspar Porphyry Dikes'"}], "mark": {"type": "point", "filled": true, "opacity": 0.45, "size": 40, "shape": "square"},
   "encoding": {"color": {"field": "g", "type": "nominal"}}},
  {"transform": [{"filter": "datum.s == 'B1' && datum.el == 'La'"}], "mark": {"type": "text", "align": "left", "baseline": "alphabetic", "fontSize": 24, "dx": -24, "color": "#111", "font": "Liberation Serif"},
   "encoding": {"x": {"datum": "La"}, "y": {"datum": 573}, "text": {"value": "B) Fisoka"}}},
  {"transform": [{"filter": "datum.s == 'B1' && datum.el == 'La'"}], "mark": {"type": "text", "align": "center", "baseline": "alphabetic", "fontSize": 18.5, "fontStyle": "italic", "dx": -34, "color": "#222", "font": "Liberation Serif"},
   "encoding": {"x": {"datum": "Nd"}, "y": {"datum": 4.34}, "text": {"value": "Highly fractionated"}}},
  {"transform": [{"filter": "datum.s == 'B1' && datum.el == 'La'"}], "mark": {"type": "text", "align": "center", "baseline": "alphabetic", "fontSize": 18.5, "fontStyle": "italic", "dx": -13, "color": "#222", "font": "Liberation Serif"},
   "encoding": {"x": {"datum": "Nd"}, "y": {"datum": 2.94}, "text": {"value": "aplite dikes"}}},
  {"transform": [{"filter": "datum.s == 'B1' && datum.el == 'La'"}], "mark": {"type": "rule", "color": "#111", "strokeWidth": 1.4, "xOffset": 3.3, "x2Offset": -1.4},
   "encoding": {"x": {"datum": "Sm"}, "x2": {"datum": "Gd"}, "y": {"datum": 3.64}, "y2": {"datum": 4.74}}},
  {"transform": [{"filter": "datum.s == 'B1' && datum.el == 'La'"}], "mark": {"type": "point", "shape": "M0,-1L0.5,1L-0.5,1Z", "filled": true, "color": "#111", "opacity": 1, "size": 100, "angle": 79, "xOffset": -1.4, "yOffset": 1},
   "encoding": {"x": {"datum": "Gd"}, "y": {"datum": 4.82}}}
 ]},
{"width": 574, "height": 353,
 "data": {"name": "ree"},
 "transform": [{"filter": "datum.p == 'E'"}, {"fold": ["La","Ce","Pr","Nd","Sm","Eu","Gd","Tb","Dy","Ho","Er","Yb","Lu"], "as": ["el", "v"]}],
 "encoding": {
  "x": {"field": "el", "type": "nominal", "sort": ["La","Ce","Pr","Nd","Sm","Eu","Gd","Tb","Dy","Ho","Er","Yb","Lu"], "scale": {"type": "point", "domain": ["La","Ce","Pr","Nd","Sm","Eu","Gd","Tb","Dy","Ho","Er","Yb","Lu"], "padding": 1.13}, "axis": null},
  "y": {"field": "v", "type": "quantitative", "scale": {"type": "log", "domain": [2, 1000], "nice": false}, "axis": {"values": [10, 100], "grid": true, "gridDash": [6, 4], "gridColor": "#9a9a9a", "gridWidth": 1, "ticks": false, "domain": false, "labels": false, "title": null}}
 },
 "layer": [
  {"transform": [{"filter": "false"}], "mark": {"type": "point", "filled": false, "opacity": 1, "strokeWidth": 1.5},
   "encoding": {
    "color": {"field": "g", "type": "nominal", "scale": {"domain": ["Aspro Lakkos Stock", "Black-matrix Porphyry Dikes"], "range": ["#f59a23", "#f59a23"]},
     "legend": {"orient": "none", "legendX": 249, "legendY": 12, "zindex": 2, "title": null, "padding": 9, "strokeColor": "#222", "fillColor": "#fff", "labelFont": "Liberation Serif", "labelFontSize": 17, "labelColor": "#222", "labelLimit": 400, "labelExpr": "datum.label + '\u00a0\u00a0\u00a0\u00a0\u200b'", "symbolSize": 289, "symbolOffset": 23, "labelOffset": 31, "rowPadding": 6, "symbolFillColor": "#f8bc72", "symbolStrokeWidth": 1.5, "symbolOpacity": 1}},
    "shape": {"field": "g", "type": "nominal", "scale": {"domain": ["Aspro Lakkos Stock", "Black-matrix Porphyry Dikes"], "range": ["M-4,0H4M0,-0.42L0.42,0.32L-0.42,0.32Z", "M-4,0H4M-0.38,-0.38H0.38V0.38H-0.38Z"]},
     "legend": {"orient": "none", "legendX": 249, "legendY": 12, "zindex": 2, "title": null, "padding": 9, "strokeColor": "#222", "fillColor": "#fff", "labelFont": "Liberation Serif", "labelFontSize": 17, "labelColor": "#222", "labelLimit": 400, "labelExpr": "datum.label + '\u00a0\u00a0\u00a0\u00a0\u200b'", "symbolSize": 289, "symbolOffset": 23, "labelOffset": 31, "rowPadding": 6, "symbolFillColor": "#f8bc72", "symbolStrokeWidth": 1.5, "symbolOpacity": 1}},
    "opacity": {"field": "g", "type": "nominal", "scale": {"domain": ["Black-matrix Porphyry Dikes", "Aspro Lakkos Stock"], "range": [1, 1]},
     "legend": {"orient": "none", "legendX": 243, "legendY": 18, "zindex": 0, "title": null, "padding": 9, "strokeColor": "#e4e4e4", "fillColor": "#e4e4e4", "labelFont": "Liberation Serif", "labelFontSize": 17, "labelColor": "transparent", "labelLimit": 400, "labelExpr": "''", "symbolSize": 289, "symbolOffset": 23, "labelOffset": 249, "rowPadding": 6, "symbolType": "M-4,-1H4V1", "symbolFillColor": "transparent", "symbolStrokeColor": "transparent", "symbolStrokeWidth": 0, "symbolOpacity": 0}}}},
  {"mark": {"type": "line", "strokeWidth": 1, "opacity": 0.5},
   "encoding": {"detail": {"field": "s"}, "color": {"field": "g", "type": "nominal"}}},
  {"transform": [{"filter": "datum.g == 'Aspro Lakkos Stock'"}], "mark": {"type": "point", "filled": true, "opacity": 0.5, "size": 36, "shape": "triangle-up"},
   "encoding": {"color": {"field": "g", "type": "nominal"}}},
  {"transform": [{"filter": "datum.g == 'Black-matrix Porphyry Dikes'"}], "mark": {"type": "point", "filled": true, "opacity": 0.5, "size": 42, "shape": "square"},
   "encoding": {"color": {"field": "g", "type": "nominal"}}},
  {"transform": [{"filter": "datum.s == 'E1' && datum.el == 'La'"}], "mark": {"type": "text", "align": "left", "baseline": "alphabetic", "fontSize": 24, "dx": -27, "color": "#111", "font": "Liberation Serif"},
   "encoding": {"x": {"datum": "La"}, "y": {"datum": 2.71}, "text": {"value": "E) Aspro Lakkos"}}}
 ]}
]}
]},
{"spacing": 19, "resolve": {"scale": {"color": "independent", "shape": "independent", "opacity": "independent", "x": "independent", "y": "independent"}, "legend": {"color": "independent", "shape": "independent", "opacity": "independent"}}, "hconcat": [
{"width": 569, "height": 356,
 "data": {"name": "ree"},
 "transform": [{"filter": "datum.p == 'C'"}, {"fold": ["La","Ce","Pr","Nd","Sm","Eu","Gd","Tb","Dy","Ho","Er","Yb","Lu"], "as": ["el", "v"]}],
 "encoding": {
  "x": {"field": "el", "type": "nominal", "sort": ["La","Ce","Pr","Nd","Sm","Eu","Gd","Tb","Dy","Ho","Er","Yb","Lu"], "scale": {"type": "point", "domain": ["La","Ce","Pr","Nd","Sm","Eu","Gd","Tb","Dy","Ho","Er","Yb","Lu"], "padding": 1.13}, "axis": {"labelAngle": -45, "labelFontSize": 15, "labelFontWeight": "bold", "labelColor": "#222", "ticks": false, "domain": false, "labelPadding": 2, "title": null, "grid": false}},
  "y": {"field": "v", "type": "quantitative", "scale": {"type": "log", "domain": [2, 1000], "nice": false}, "axis": {"values": [10, 100], "format": "d", "grid": true, "gridDash": [6, 4], "gridColor": "#9a9a9a", "gridWidth": 1, "ticks": false, "domain": false, "labelFontSize": 17, "labelPadding": 6, "labelColor": "#222", "title": "REE/C1 Chondrite", "titleFontSize": 20, "titleFontWeight": "normal", "titleColor": "#222", "titlePadding": 12}}
 },
 "layer": [
  {"mark": {"type": "line", "strokeWidth": 1, "opacity": 0.6},
   "encoding": {"detail": {"field": "s"}, "color": {"field": "g", "type": "nominal", "scale": {"domain": ["Stratoni Stock"], "range": ["#8e3f8e"]},
    "legend": {"orient": "none", "legendX": 322, "legendY": 15, "zindex": 2, "title": null, "padding": 9, "strokeColor": "#222", "fillColor": "#fff", "labelFont": "Liberation Serif", "labelFontSize": 17, "labelColor": "#222", "labelLimit": 400, "labelExpr": "datum.label + '\u00a0\u00a0\u00a0\u00a0\u00a0\u200b'", "symbolSize": 289, "symbolOffset": 31, "labelOffset": 42, "rowPadding": 6, "symbolType": "M-4,0H4M0,-0.42L0.42,0.32L-0.42,0.32Z", "symbolStrokeColor": "#b07fb0", "symbolFillColor": "#a86aa8", "symbolStrokeWidth": 1.5, "symbolOpacity": 1}}}},
  {"transform": [{"filter": "false"}], "mark": {"type": "point", "filled": false},
   "encoding": {"opacity": {"field": "g", "type": "nominal", "scale": {"domain": ["Stratoni Stock "], "range": [1]},
     "legend": {"orient": "none", "legendX": 316, "legendY": 21, "zindex": 0, "title": null, "padding": 9, "strokeColor": "#e4e4e4", "fillColor": "#e4e4e4", "labelFont": "Liberation Serif", "labelFontSize": 17, "labelColor": "transparent", "labelLimit": 400, "labelExpr": "''", "symbolSize": 289, "symbolOffset": 31, "labelOffset": 161, "rowPadding": 6, "symbolType": "M-4,-1H4V1", "symbolFillColor": "transparent", "symbolStrokeColor": "transparent", "symbolStrokeWidth": 0, "symbolOpacity": 0}}}},
  {"mark": {"type": "point", "filled": true, "opacity": 0.5, "size": 36, "shape": "triangle-up"},
   "encoding": {"color": {"field": "g", "type": "nominal"}}},
  {"transform": [{"filter": "datum.s == 'C1' && datum.el == 'La'"}], "mark": {"type": "text", "align": "left", "baseline": "alphabetic", "fontSize": 24, "dx": -24, "color": "#111", "font": "Liberation Serif"},
   "encoding": {"x": {"datum": "La"}, "y": {"datum": 562}, "text": {"value": "C) Stratoni"}}}
 ]},
{"width": 574, "height": 356,
 "data": {"name": "ree"},
 "transform": [{"filter": "datum.p == 'F'"}, {"fold": ["La","Ce","Pr","Nd","Sm","Eu","Gd","Tb","Dy","Ho","Er","Yb","Lu"], "as": ["el", "v"]}],
 "encoding": {
  "x": {"field": "el", "type": "nominal", "sort": ["La","Ce","Pr","Nd","Sm","Eu","Gd","Tb","Dy","Ho","Er","Yb","Lu"], "scale": {"type": "point", "domain": ["La","Ce","Pr","Nd","Sm","Eu","Gd","Tb","Dy","Ho","Er","Yb","Lu"], "padding": 1.13}, "axis": {"labelAngle": -45, "labelFontSize": 15, "labelFontWeight": "bold", "labelColor": "#222", "ticks": false, "domain": false, "labelPadding": 2, "title": null, "grid": false}},
  "y": {"field": "v", "type": "quantitative", "scale": {"type": "log", "domain": [2, 1000], "nice": false}, "axis": {"values": [10, 100], "grid": true, "gridDash": [6, 4], "gridColor": "#9a9a9a", "gridWidth": 1, "ticks": false, "domain": false, "labels": false, "title": null}}
 },
 "layer": [
  {"mark": {"type": "line", "strokeWidth": 1.1, "opacity": 0.9},
   "encoding": {"detail": {"field": "s"}, "color": {"field": "g", "type": "nominal", "scale": {"domain": ["Stratoni", "Piavitsa", "Olympias"], "range": ["#4d4d4d", "#e8735c", "#8282d2"]},
    "legend": {"orient": "none", "legendX": 359, "legendY": 15, "zindex": 2, "title": null, "padding": 9, "strokeColor": "#222", "fillColor": "#fff", "labelFont": "Liberation Serif", "labelFontSize": 17, "labelColor": "#222", "labelLimit": 400, "labelExpr": "datum.label + '\u00a0\u00a0\u00a0\u00a0\u200b'", "symbolSize": 289, "symbolOffset": 34, "labelOffset": 42, "rowPadding": 6, "symbolType": "M-4,0H4M0,-0.42L0.42,0.32L-0.42,0.32Z", "symbolFillColor": "#fff", "symbolStrokeWidth": 1.3, "symbolOpacity": 1}}}},
  {"transform": [{"filter": "false"}], "mark": {"type": "point", "filled": false},
   "encoding": {"opacity": {"field": "g", "type": "nominal", "scale": {"domain": ["Olympias", "Piavitsa", "Stratoni"], "range": [1, 1, 1]},
     "legend": {"orient": "none", "legendX": 353, "legendY": 21, "zindex": 0, "title": null, "padding": 9, "strokeColor": "#e4e4e4", "fillColor": "#e4e4e4", "labelFont": "Liberation Serif", "labelFontSize": 17, "labelColor": "transparent", "labelLimit": 400, "labelExpr": "''", "symbolSize": 289, "symbolOffset": 34, "labelOffset": 126, "rowPadding": 6, "symbolType": "M-4,-1H4V1", "symbolFillColor": "transparent", "symbolStrokeColor": "transparent", "symbolStrokeWidth": 0, "symbolOpacity": 0}}}},
  {"mark": {"type": "point", "filled": false, "opacity": 0.9, "size": 36, "strokeWidth": 1, "shape": "triangle-up"},
   "encoding": {"color": {"field": "g", "type": "nominal"}}},
  {"transform": [{"filter": "datum.s == 'F1' && datum.el == 'La'"}], "mark": {"type": "text", "align": "left", "baseline": "alphabetic", "fontSize": 24, "dx": -27, "color": "#111", "font": "Liberation Serif"},
   "encoding": {"x": {"datum": "La"}, "y": {"datum": 2.55}, "text": {"value": "F) Early Miocene Dikes"}}},
  {"transform": [{"filter": "datum.s == 'F1' && datum.el == 'La'"}], "mark": {"type": "text", "align": "left", "baseline": "alphabetic", "fontSize": 18.5, "fontStyle": "italic", "dx": 16, "color": "#222", "font": "Liberation Serif"},
   "encoding": {"x": {"datum": "Tb"}, "y": {"datum": 71.6}, "text": {"value": "Vathilakkos"}}},
  {"transform": [{"filter": "datum.s == 'F1' && datum.el == 'La'"}], "mark": {"type": "rule", "color": "#111", "strokeWidth": 1.4, "xOffset": 11.7, "x2Offset": 16},
   "encoding": {"x": {"datum": "Tb"}, "x2": {"datum": "Gd"}, "y": {"datum": 69.2}, "y2": {"datum": 42.4}}},
  {"transform": [{"filter": "datum.s == 'F1' && datum.el == 'La'"}], "mark": {"type": "point", "shape": "M0,-1L0.5,1L-0.5,1Z", "filled": true, "color": "#111", "opacity": 1, "size": 100, "angle": 232, "xOffset": 16, "yOffset": 0},
   "encoding": {"x": {"datum": "Gd"}, "y": {"datum": 42.4}}}
 ]}
]}
]
}
